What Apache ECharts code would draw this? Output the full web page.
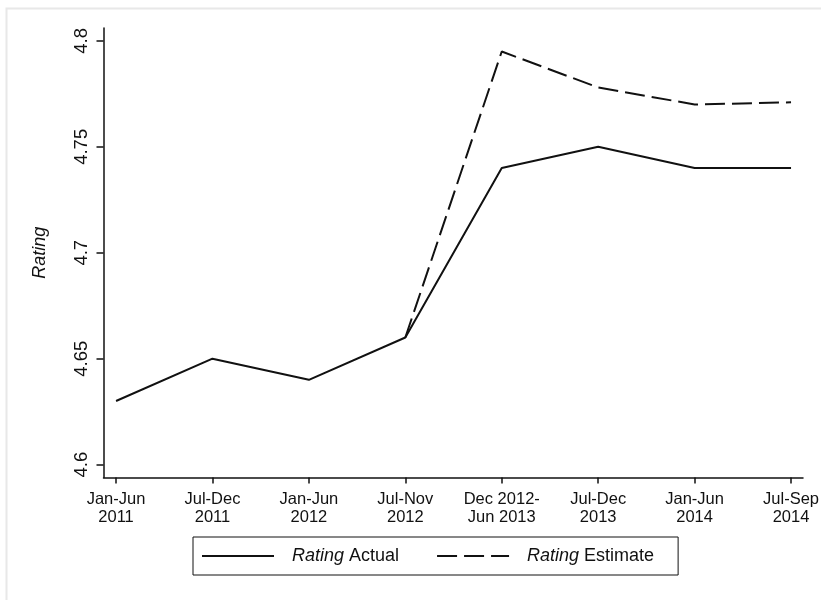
<!DOCTYPE html>
<html>
<head>
<meta charset="utf-8">
<script src="https://cdn.jsdelivr.net/npm/echarts@6/dist/echarts.min.js"></script>
<style>
  html, body { margin: 0; padding: 0; background: #fff; }
  #chart { width: 821px; height: 600px; }
</style>
</head>
<body>
<div id="chart"></div>
<script>
// Reporting periods along the horizontal axis
const periods = [
  'Jan-Jun\n2011', 'Jul-Dec\n2011', 'Jan-Jun\n2012', 'Jul-Nov\n2012',
  'Dec 2012-\nJun 2013', 'Jul-Dec\n2013', 'Jan-Jun\n2014', 'Jul-Sep\n2014'
];
// Average rating actually observed in each period
const ratingActual = [4.63, 4.65, 4.64, 4.66, 4.74, 4.75, 4.74, 4.74];
// Estimated rating (only from Jul-Nov 2012 onward)
const ratingEstimate = [null, null, null, 4.66, 4.795, 4.778, 4.770, 4.771];
// Rating axis tick values
const ratingTicks = [4.6, 4.65, 4.7, 4.75, 4.8];

const FONT = 'Liberation Sans, Arial, Helvetica, sans-serif';
const INK = '#111';

const toPairs = arr => arr.map((v, i) => [i, v]);
const periodIdx = periods.map((_, i) => i);

const chart = echarts.init(document.getElementById('chart'), null, { renderer: 'canvas' });

chart.setOption({
  backgroundColor: '#fff',
  animation: false,
  textStyle: { fontFamily: FONT, color: INK },
  graphic: [{
    type: 'rect',
    left: 4, top: 6,
    shape: { width: 900, height: 700 },
    style: { fill: null, stroke: '#e8e8e8', lineWidth: 2 },
    silent: true
  }],
  grid: {
    left: 103.5, right: 18, top: 28, bottom: 122.5,
    containLabel: false,
    outerBoundsMode: 'none'
  },
  xAxis: {
    type: 'value',
    min: -0.13,
    max: 7.124,
    splitLine: { show: false },
    axisLine: { show: true, onZero: false, lineStyle: { color: INK, width: 1.5 } },
    axisTick: {
      show: true, customValues: periodIdx, length: 6,
      lineStyle: { color: INK, width: 1.5 }
    },
    axisLabel: {
      customValues: periodIdx,
      formatter: v => periods[Math.round(v)],
      fontFamily: FONT, fontSize: 16.5, lineHeight: 18, color: INK, margin: 13
    }
  },
  yAxis: {
    type: 'value',
    min: 4.5939,
    max: 4.8061,
    name: 'Rating',
    nameLocation: 'middle',
    nameGap: 55,
    nameRotate: 90,
    nameTextStyle: { fontFamily: FONT, fontSize: 18, fontStyle: 'italic', color: INK },
    splitLine: { show: false },
    axisLine: { show: true, onZero: false, lineStyle: { color: INK, width: 1.5 } },
    axisTick: {
      show: true, customValues: ratingTicks, length: 7,
      lineStyle: { color: INK, width: 1.5 }
    },
    axisLabel: {
      customValues: ratingTicks,
      rotate: 90,
      formatter: v => String(+v.toFixed(2)),
      fontFamily: FONT, fontSize: 18.5, color: INK, margin: 12
    }
  },
  legend: {
    left: 193, top: 537,
    orient: 'horizontal',
    borderColor: INK, borderWidth: 1,
    padding: [10, 24, 10, 8],
    itemWidth: 72, itemHeight: 14,
    itemGap: 37,
    selectedMode: false,
    itemStyle: { color: 'rgba(0,0,0,0)', borderWidth: 0 },
    formatter: name => name.replace('Rating', '{i|Rating}'),
    textStyle: {
      fontFamily: FONT, fontSize: 18, color: INK,
      padding: [0, 0, 0, 13],
      rich: { i: { fontFamily: FONT, fontSize: 18, fontStyle: 'italic', color: INK } }
    },
    data: ['Rating Actual', 'Rating Estimate']
  },
  series: [
    {
      name: 'Rating Actual',
      type: 'line',
      data: toPairs(ratingActual),
      symbol: 'none',
      lineStyle: { color: INK, width: 2, type: 'solid' },
      itemStyle: { color: INK }
    },
    {
      name: 'Rating Estimate',
      type: 'line',
      data: toPairs(ratingEstimate),
      symbol: 'none',
      connectNulls: false,
      lineStyle: { color: INK, width: 2, type: [20, 7] },
      itemStyle: { color: INK }
    }
  ]
});
</script>
</body>
</html>
